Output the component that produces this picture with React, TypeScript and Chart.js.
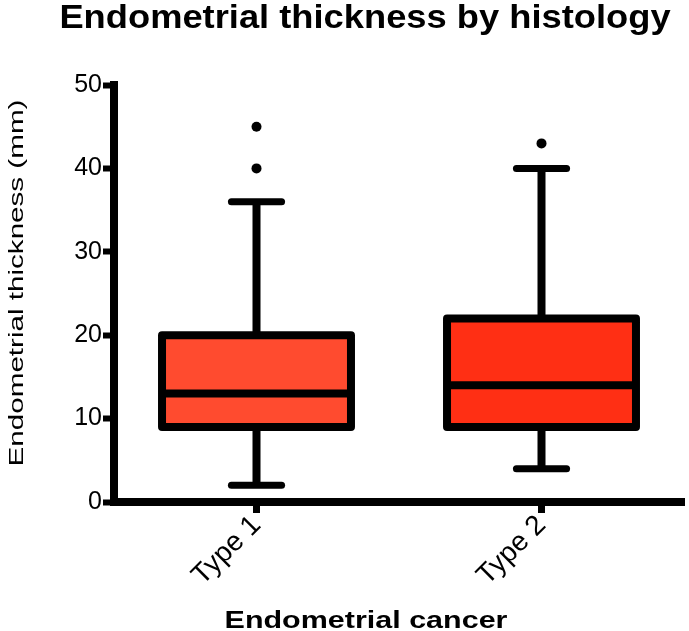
import React, { useEffect, useRef } from 'react';
import { Chart, registerables } from 'chart.js';

Chart.register(...registerables);

// ---- data ----
const categories = ['Type 1', 'Type 2'];
const whiskerLow = [2, 4];
const q1 = [9, 9];
const medians = [13, 14];
const q3 = [20, 22];
const whiskerHigh = [36, 40];
const outlierCategories = ['Type 1', 'Type 1', 'Type 2'];
const outlierValues = [45, 40, 43];
const boxColors = ['#FF4B2F', '#FF2F14'];
const yMin = 0;
const yMax = 50;
const yStep = 10;

const titleText = 'Endometrial thickness by histology';
const xTitleText = 'Endometrial cancer';
const yTitleText = 'Endometrial thickness (mm)';

const FONT = "'Liberation Sans', Arial, Helvetica, sans-serif";
const W = 689;
const H = 631;

function drawText(ctx: CanvasRenderingContext2D, text: string, x: number, y: number, font: string, sx: number, rotation = 0) {
  ctx.save();
  ctx.translate(x, y);
  ctx.rotate(rotation);
  ctx.scale(sx, 1);
  ctx.font = font;
  ctx.textAlign = 'center';
  ctx.textBaseline = 'alphabetic';
  ctx.fillStyle = '#000';
  ctx.fillText(text, 0, 0);
  ctx.restore();
}

const boxPlotPlugin = {
  id: 'boxPlot',
  beforeDatasetsDraw(chart: any) {
    const { ctx, scales } = chart;
    const x = scales.x;
    const y = scales.y;
    ctx.save();
    ctx.strokeStyle = '#000';
    ctx.lineWidth = 8;
    ctx.lineCap = 'butt';
    categories.forEach((_, i) => {
      const cx = x.getPixelForValue(i);
      ctx.beginPath();
      ctx.moveTo(cx, y.getPixelForValue(whiskerLow[i]));
      ctx.lineTo(cx, y.getPixelForValue(q1[i]));
      ctx.moveTo(cx, y.getPixelForValue(q3[i]));
      ctx.lineTo(cx, y.getPixelForValue(whiskerHigh[i]));
      ctx.stroke();
    });
    ctx.restore();
  },
  afterDatasetsDraw(chart: any) {
    const { ctx, scales } = chart;
    const x = scales.x;
    const y = scales.y;
    const meta = chart.getDatasetMeta(0);
    const catWidth = (x.right - x.left) / categories.length;
    const capHalf = catWidth * 0.088;
    ctx.save();
    ctx.strokeStyle = '#000';
    ctx.lineWidth = 8;
    categories.forEach((_, i) => {
      const el = meta.data[i];
      const cx = el.x;
      const half = el.width / 2;
      const top = y.getPixelForValue(q3[i]);
      const bottom = y.getPixelForValue(q1[i]);
      // box outline
      ctx.lineJoin = 'round';
      ctx.strokeRect(cx - half, top, half * 2, bottom - top);
      // median
      ctx.lineCap = 'butt';
      const my = y.getPixelForValue(medians[i]);
      ctx.beginPath();
      ctx.moveTo(cx - half, my);
      ctx.lineTo(cx + half, my);
      ctx.stroke();
      // caps
      ctx.lineCap = 'round';
      ctx.lineWidth = 7;
      [whiskerLow[i], whiskerHigh[i]].forEach((v) => {
        const py = y.getPixelForValue(v);
        ctx.beginPath();
        ctx.moveTo(cx - capHalf, py);
        ctx.lineTo(cx + capHalf, py);
        ctx.stroke();
      });
      ctx.lineWidth = 8;
    });
    ctx.restore();
  },
  afterDraw(chart: any) {
    const { ctx } = chart;
    drawText(ctx, titleText, 365, 28, `bold 33px ${FONT}`, 1.1);
    drawText(ctx, xTitleText, 366, 628, `bold 24px ${FONT}`, 1.27);
    drawText(ctx, yTitleText, 23, 283, `20px ${FONT}`, 1.48, -Math.PI / 2);
  },
};

export default function App() {
  const canvasRef = useRef<HTMLCanvasElement | null>(null);

  useEffect(() => {
    document.body.style.margin = '0';
    const canvas = canvasRef.current;
    if (!canvas) return;
    const chart = new Chart(canvas, {
      type: 'bar',
      data: {
        labels: categories,
        datasets: [
          {
            type: 'bar',
            data: categories.map((_, i) => [q1[i], q3[i]]) as any,
            backgroundColor: boxColors,
            borderWidth: 0,
            barPercentage: 1,
            categoryPercentage: 0.663,
            grouped: false,
            order: 2,
          } as any,
          {
            type: 'scatter',
            data: outlierValues.map((v, i) => ({ x: outlierCategories[i], y: v })) as any,
            pointRadius: 5,
            pointBackgroundColor: '#000',
            pointBorderWidth: 0,
            showLine: false,
            order: 1,
          } as any,
        ],
      },
      options: {
        responsive: false,
        animation: false,
        layout: { padding: { top: 85, right: 4, left: 0, bottom: 0 } },
        plugins: {
          legend: { display: false },
          tooltip: { enabled: false },
          title: { display: false },
        },
        scales: {
          x: {
            type: 'category',
            offset: true,
            grid: {
              offset: false,
              drawOnChartArea: false,
              drawTicks: true,
              tickLength: 11,
              tickWidth: 7,
              tickColor: '#000',
            },
            border: { display: true, color: '#000', width: 8 },
            ticks: {
              color: '#000',
              font: { family: FONT, size: 28 },
              minRotation: 45,
              maxRotation: 45,
              padding: -4,
              autoSkip: false,
            },
            afterFit: (s: any) => {
              s.height = 129;
            },
          },
          y: {
            type: 'linear',
            min: yMin,
            max: yMax,
            ticks: {
              stepSize: yStep,
              color: '#000',
              font: { family: FONT, size: 25 },
              padding: 1,
            },
            grid: {
              drawOnChartArea: false,
              drawTicks: true,
              tickLength: 11,
              tickWidth: 6,
              tickColor: '#000',
            },
            border: { display: true, color: '#000', width: 8 },
            afterFit: (s: any) => {
              s.width = 114;
            },
          },
        },
      } as any,
      plugins: [boxPlotPlugin],
    });
    return () => chart.destroy();
  }, []);

  return (
    <div style={{ width: W, height: H }}>
      <canvas ref={canvasRef} width={W} height={H} style={{ display: 'block' }} />
    </div>
  );
}
